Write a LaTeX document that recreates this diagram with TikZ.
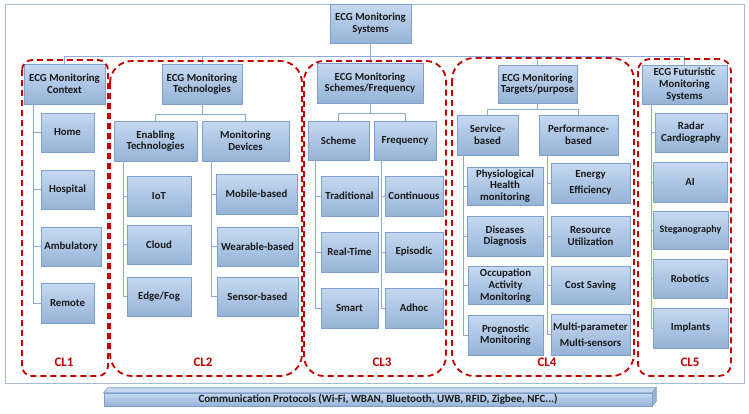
\documentclass[tikz,border=0pt]{standalone}
\usepackage{fontspec}
\setmainfont{Carlito}
\usetikzlibrary{calc}

\definecolor{boxtop}{HTML}{C6D9F1}
\definecolor{boxbot}{HTML}{95B3D7}
\definecolor{boxline}{HTML}{7F9FCB}
\definecolor{linkblue}{HTML}{8EAADB}
\definecolor{clred}{HTML}{C00000}
\definecolor{framecol}{HTML}{A9BCD6}

\tikzset{
  blk/.style={draw=boxline, top color=boxtop, bottom color=boxbot, line width=0.6pt,
    font=\bfseries\fontsize{10.8}{11.7}\selectfont, text=black!90, align=center, inner sep=1pt},
  conn/.style={draw=linkblue, line width=1pt},
  clu/.style={draw=clred, line width=1.8pt, dash pattern=on 6pt off 4pt},
  cl/.style={text=clred, font=\bfseries\fontsize{13}{14}\selectfont},
}

\begin{document}
\begin{tikzpicture}[x=1pt, y=-1pt]
    \useasboundingbox (0,0) rectangle (749,413);

    % Outer frame
    \draw[framecol, line width=1pt] (5,4) rectangle (744,383);

    % Root and first level
    \node[blk, minimum width=81, minimum height=39] (root) at (370.5,23.5) {ECG Monitoring\\Systems};
    \node[blk, minimum width=81, minimum height=40] (ctx) at (64.5,84) {ECG Monitoring\\Context};
    \node[blk, minimum width=80, minimum height=40] (tech) at (202,84) {ECG Monitoring\\Technologies};
    \node[blk, minimum width=106, minimum height=40] (sch) at (370,83) {ECG Monitoring\\Schemes/Frequency};
    \node[blk, minimum width=79, minimum height=38] (tgt) at (537.5,84) {ECG Monitoring\\Targets/purpose};
    \node[blk, minimum width=85, minimum height=39] (fut) at (684.5,84.5) {ECG Futuristic\\Monitoring\\Systems};

    \coordinate (bar) at (0,56);
    \foreach \k in {ctx,tech,sch,tgt,fut}
        \draw[conn] (root.south) -- (root.south |- bar) -| (\k.north);

    % CL1: context
    \node[blk, minimum width=53, minimum height=39] (home) at (67.5,132.5) {Home};
    \node[blk, minimum width=53, minimum height=39] (hosp) at (67.5,189.5) {Hospital};
    \node[blk, minimum width=60, minimum height=39] (amb) at (71,246.5) {Ambulatory};
    \node[blk, minimum width=53, minimum height=40] (rem) at (67.5,303) {Remote};
    \coordinate (ctxT) at (33,0);
    \foreach \k in {home,hosp,amb,rem}
        \draw[conn] (ctx.south -| ctxT) |- (\k.west);

    % CL2: technologies
    \node[blk, minimum width=83, minimum height=40] (enab) at (155.5,141) {Enabling\\Technologies};
    \node[blk, minimum width=87, minimum height=40] (dev) at (245.5,141) {Monitoring\\Devices};
    \draw[conn] (tech.south) -- ++(0,10) -| (enab.north);
    \draw[conn] (tech.south) -- ++(0,10) -| (dev.north);

    \node[blk, minimum width=64, minimum height=40] (iot) at (159,196) {IoT};
    \node[blk, minimum width=64, minimum height=39] (cloud) at (159,244.5) {Cloud};
    \node[blk, minimum width=64, minimum height=39] (edge) at (159,296.5) {Edge/Fog};
    \node[blk, minimum width=81, minimum height=40] (mob) at (256.5,194) {Mobile-based};
    \node[blk, minimum width=81, minimum height=39] (wear) at (257.5,246.5) {Wearable-based};
    \node[blk, minimum width=81, minimum height=39] (sens) at (257.5,296.5) {Sensor-based};
    \coordinate (enT) at (123,0);
    \coordinate (devT) at (211,0);
    \foreach \k in {iot,cloud,edge}
        \draw[conn] (enab.south -| enT) |- (\k.west);
    \foreach \k in {mob,wear,sens}
        \draw[conn] (dev.south -| devT) |- (\k.west);

    % CL3: schemes / frequency
    \node[blk, minimum width=61, minimum height=39] (schm) at (338.5,140.5) {Scheme};
    \node[blk, minimum width=62, minimum height=39] (freq) at (405,140.5) {Frequency};
    \draw[conn] (sch.south) -- ++(0,10) -| (schm.north);
    \draw[conn] (sch.south) -- ++(0,10) -| (freq.north);

    \node[blk, minimum width=57, minimum height=40] (trad) at (349.5,196) {Traditional};
    \node[blk, minimum width=57, minimum height=40] (real) at (349.5,252) {Real-Time};
    \node[blk, minimum width=57, minimum height=40] (smart) at (349.5,308) {Smart};
    \node[blk, minimum width=58, minimum height=40] (cont) at (414,196) {Continuous};
    \node[blk, minimum width=58, minimum height=40] (epis) at (414,252) {Episodic};
    \node[blk, minimum width=58, minimum height=40] (adhoc) at (414,308) {Adhoc};
    \coordinate (schT) at (315,0);
    \coordinate (frqT) at (381,0);
    \foreach \k in {trad,real,smart}
        \draw[conn] (schm.south -| schT) |- (\k.west);
    \foreach \k in {cont,epis,adhoc}
        \draw[conn] (freq.south -| frqT) |- (\k.west);

    % CL4: targets / purpose
    \node[blk, minimum width=61, minimum height=40] (serv) at (487.5,135) {Service-\\based};
    \node[blk, minimum width=79, minimum height=40] (perf) at (578.5,135) {Performance-\\based};
    \draw[conn] (tgt.south) -- ++(0,6) -| (serv.north);
    \draw[conn] (tgt.south) -- ++(0,6) -| (perf.north);

    \node[blk, minimum width=76, minimum height=38] (phys) at (505,186) {Physiological\\Health\\monitoring};
    \node[blk, minimum width=76, minimum height=40] (dis) at (505,236) {Diseases\\Diagnosis};
    \node[blk, minimum width=75, minimum height=38] (occ) at (505.5,285.5) {Occupation\\Activity\\Monitoring};
    \node[blk, minimum width=75, minimum height=40] (prog) at (505.5,335) {Prognostic\\Monitoring};
    \node[blk, minimum width=79, minimum height=40] (ener) at (590.5,183) {Energy\\[4pt]Efficiency};
    \node[blk, minimum width=79, minimum height=40] (res) at (590.5,236) {Resource\\Utilization};
    \node[blk, minimum width=79, minimum height=38] (cost) at (590.5,285.5) {Cost Saving};
    \node[blk, minimum width=79, minimum height=41] (multi) at (590.5,334.5) {Multi-parameter\\[4pt]Multi-sensors};
    \coordinate (svT) at (463,0);
    \coordinate (pfT) at (547,0);
    \foreach \k in {phys,dis,occ,prog}
        \draw[conn] (serv.south -| svT) |- (\k.west);
    \foreach \k in {ener,res,cost,multi}
        \draw[conn] (perf.south -| pfT) |- (\k.west);

    % CL5: futuristic systems
    \node[blk, minimum width=72, minimum height=39] (radar) at (691,132.5) {Radar\\Cardiography};
    \node[blk, minimum width=74, minimum height=40] (ai) at (690,182) {AI};
    \node[blk, minimum width=75, minimum height=38, font=\bfseries\fontsize{10}{11}\selectfont] (steg) at (690.5,230) {Steganography};
    \node[blk, minimum width=74, minimum height=39] (rob) at (690,278.5) {Robotics};
    \node[blk, minimum width=75, minimum height=40] (impl) at (690.5,328) {Implants};
    \coordinate (futT) at (651,0);
    \foreach \k in {radar,ai,steg,rob,impl}
        \draw[conn] (fut.south -| futT) |- (\k.west);

    % Clusters
    \draw[clu, rounded corners=10] (22,60) rectangle (108,376);
    \draw[clu, rounded corners=22] (110,61) rectangle (302,376);
    \draw[clu, rounded corners=20] (304,61) rectangle (446,376);
    \draw[clu, rounded corners=22] (452,58) rectangle (634,376);
    \draw[clu, rounded corners=12] (638,59) rectangle (731,376);
    \node[cl] (cl1) at (64,362) {CL1};
    \node[cl] (cl2) at (203,362) {CL2};
    \node[cl] (cl3) at (382,362) {CL3};
    \node[cl] (cl4) at (547,362) {CL4};
    \node[cl] (cl5) at (690,362) {CL5};

    % Protocol bar
    \node[blk, minimum width=548, minimum height=13, inner sep=0pt,
        font=\bfseries\fontsize{11}{12}\selectfont] (proto) at (378,399.5)
        {Communication Protocols (Wi-Fi, WBAN, Bluetooth, UWB, RFID, Zigbee, NFC...)};
    \filldraw[draw=boxline, fill=boxtop, line width=0.6pt] (proto.north west) -- ++(4,-5)
        -- ($(proto.north east)+(4,-5)$) -- (proto.north east) -- cycle;
    \filldraw[draw=boxline, fill=boxbot, line width=0.6pt] (proto.north east) -- ++(4,-5)
        -- ($(proto.south east)+(4,-5)$) -- (proto.south east) -- cycle;
\end{tikzpicture}
\end{document}
